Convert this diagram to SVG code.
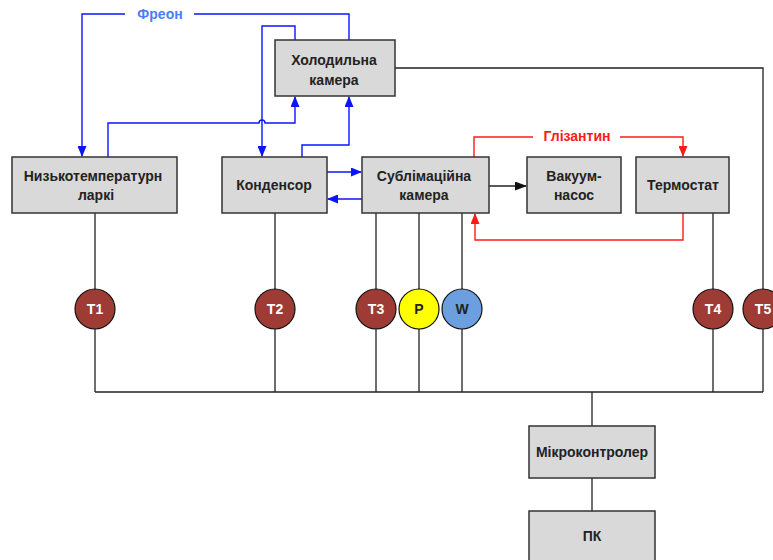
<svg xmlns="http://www.w3.org/2000/svg" width="773" height="560" viewBox="0 0 773 560">
<defs>
<style>
.box{fill:#d9d9d9;stroke:#333;stroke-width:1.5}
.lbl{font-family:"Liberation Sans",Arial,sans-serif;font-weight:bold;font-size:14px;fill:#222;text-anchor:middle}
.blue{fill:none;stroke:#0a14ff;stroke-width:1.4}
.red{fill:none;stroke:#ff1a1a;stroke-width:1.4}
.blk{fill:none;stroke:#222;stroke-width:1.3}
.tc{fill:#9e3b34;stroke:#111;stroke-width:1.2}
.ct{font-family:"Liberation Sans",Arial,sans-serif;font-weight:bold;font-size:14px;fill:#fff;text-anchor:middle}
.cd{font-family:"Liberation Sans",Arial,sans-serif;font-weight:bold;font-size:14px;fill:#222;text-anchor:middle}
</style>
<marker id="ab" markerWidth="11" markerHeight="9" refX="10" refY="4.5" orient="auto" markerUnits="userSpaceOnUse"><path d="M0,0 L11,4.5 L0,9 z" fill="#0a14ff"/></marker>
<marker id="ar" markerWidth="11" markerHeight="9" refX="10" refY="4.5" orient="auto" markerUnits="userSpaceOnUse"><path d="M0,0 L11,4.5 L0,9 z" fill="#ff1a1a"/></marker>
<marker id="ak" markerWidth="12" markerHeight="9" refX="11" refY="4.5" orient="auto" markerUnits="userSpaceOnUse"><path d="M0,0 L12,4.5 L0,9 z" fill="#111"/></marker>
</defs>
<rect width="773" height="560" fill="#fff"/>
<g id="connectors">
<path class="blue" d="M125,14 H82 V156" marker-end="url(#ab)"/>
<path class="blue" d="M194,14 H349 V40"/>
<path class="blue" d="M295,40 V26 H262 V156" marker-end="url(#ab)"/>
<path class="blue" d="M108,157 V123 H259 A3,3 0 0 1 265,123 H295 V97" marker-end="url(#ab)"/>
<path class="blue" d="M302,157 V145 H349 V97" marker-end="url(#ab)"/>
<path class="blue" d="M327,172 H361" marker-end="url(#ab)"/>
<path class="blue" d="M362,199 H328" marker-end="url(#ab)"/>
<path class="red" d="M474,157 V137 H533"/>
<path class="red" d="M620,137 H683 V156" marker-end="url(#ar)"/>
<path class="red" d="M683,213 V240 H475 V214" marker-end="url(#ar)"/>
<path class="blk" d="M489,186 H526" marker-end="url(#ak)"/>
<path class="blk" d="M395,68 H763 V289"/>
<path class="blk" d="M95,213 V289 M95,329 V392"/>
<path class="blk" d="M275,213 V289 M275,329 V392"/>
<path class="blk" d="M376,213 V289 M376,329 V392"/>
<path class="blk" d="M419,213 V289 M419,329 V392"/>
<path class="blk" d="M462,213 V289 M462,329 V392"/>
<path class="blk" d="M713,213 V289 M713,329 V392"/>
<path class="blk" d="M763,329 V392"/>
<path class="blk" d="M95,392 H763"/>
<path class="blk" d="M592,392 V426 M592,478 V511"/>
</g>
<text x="160" y="19" font-family="Liberation Sans,Arial,sans-serif" font-weight="bold" font-size="14" fill="#4a7df7" text-anchor="middle">Фреон</text>
<text x="577" y="141" font-family="Liberation Sans,Arial,sans-serif" font-weight="bold" font-size="14" fill="#ff1a1a" text-anchor="middle">Глізантин</text>
<g id="holod"><rect class="box" x="275" y="40" width="120" height="56"/><text class="lbl" x="334" y="65">Холодильна</text><text class="lbl" x="334" y="85">камера</text></g>
<g id="nyzko"><rect class="box" x="12" y="157" width="165" height="56"/><text class="lbl" x="93" y="181">Низькотемпературн</text><text class="lbl" x="96" y="200">ларкі</text></g>
<g id="kond"><rect class="box" x="222" y="157" width="105" height="56"/><text class="lbl" x="274" y="190">Конденсор</text></g>
<g id="sublim"><rect class="box" x="362" y="157" width="127" height="56"/><text class="lbl" x="424" y="181">Сублімаційна</text><text class="lbl" x="424" y="200">камера</text></g>
<g id="vakuum"><rect class="box" x="527" y="157" width="94" height="56"/><text class="lbl" x="574" y="181">Вакуум-</text><text class="lbl" x="574" y="200">насос</text></g>
<g id="termostat"><rect class="box" x="636" y="157" width="93" height="56"/><text class="lbl" x="683" y="190">Термостат</text></g>
<g id="t1"><circle class="tc" cx="95" cy="309" r="20"/><text class="ct" x="95" y="314">T1</text></g>
<g id="t2"><circle class="tc" cx="275" cy="309" r="20"/><text class="ct" x="275" y="314">T2</text></g>
<g id="t3"><circle class="tc" cx="376" cy="309" r="20"/><text class="ct" x="376" y="314">T3</text></g>
<g id="p"><circle cx="419" cy="309" r="20" fill="#ffff00" stroke="#111" stroke-width="1.2"/><text class="cd" x="419" y="314">P</text></g>
<g id="w"><circle cx="462" cy="309" r="20" fill="#6c9fe0" stroke="#111" stroke-width="1.2"/><text class="cd" x="462" y="314" fill="#1a2a40">W</text></g>
<g id="t4"><circle class="tc" cx="713" cy="309" r="20"/><text class="ct" x="713" y="314">T4</text></g>
<g id="t5"><circle class="tc" cx="763" cy="309" r="20"/><text class="ct" x="763" y="314">T5</text></g>
<g id="mcu"><rect class="box" x="529" y="426" width="126" height="52"/><text class="lbl" x="592" y="457">Мікроконтролер</text></g>
<g id="pc"><rect class="box" x="529" y="511" width="126" height="60"/><text class="lbl" x="592" y="541">ПК</text></g>
</svg>
